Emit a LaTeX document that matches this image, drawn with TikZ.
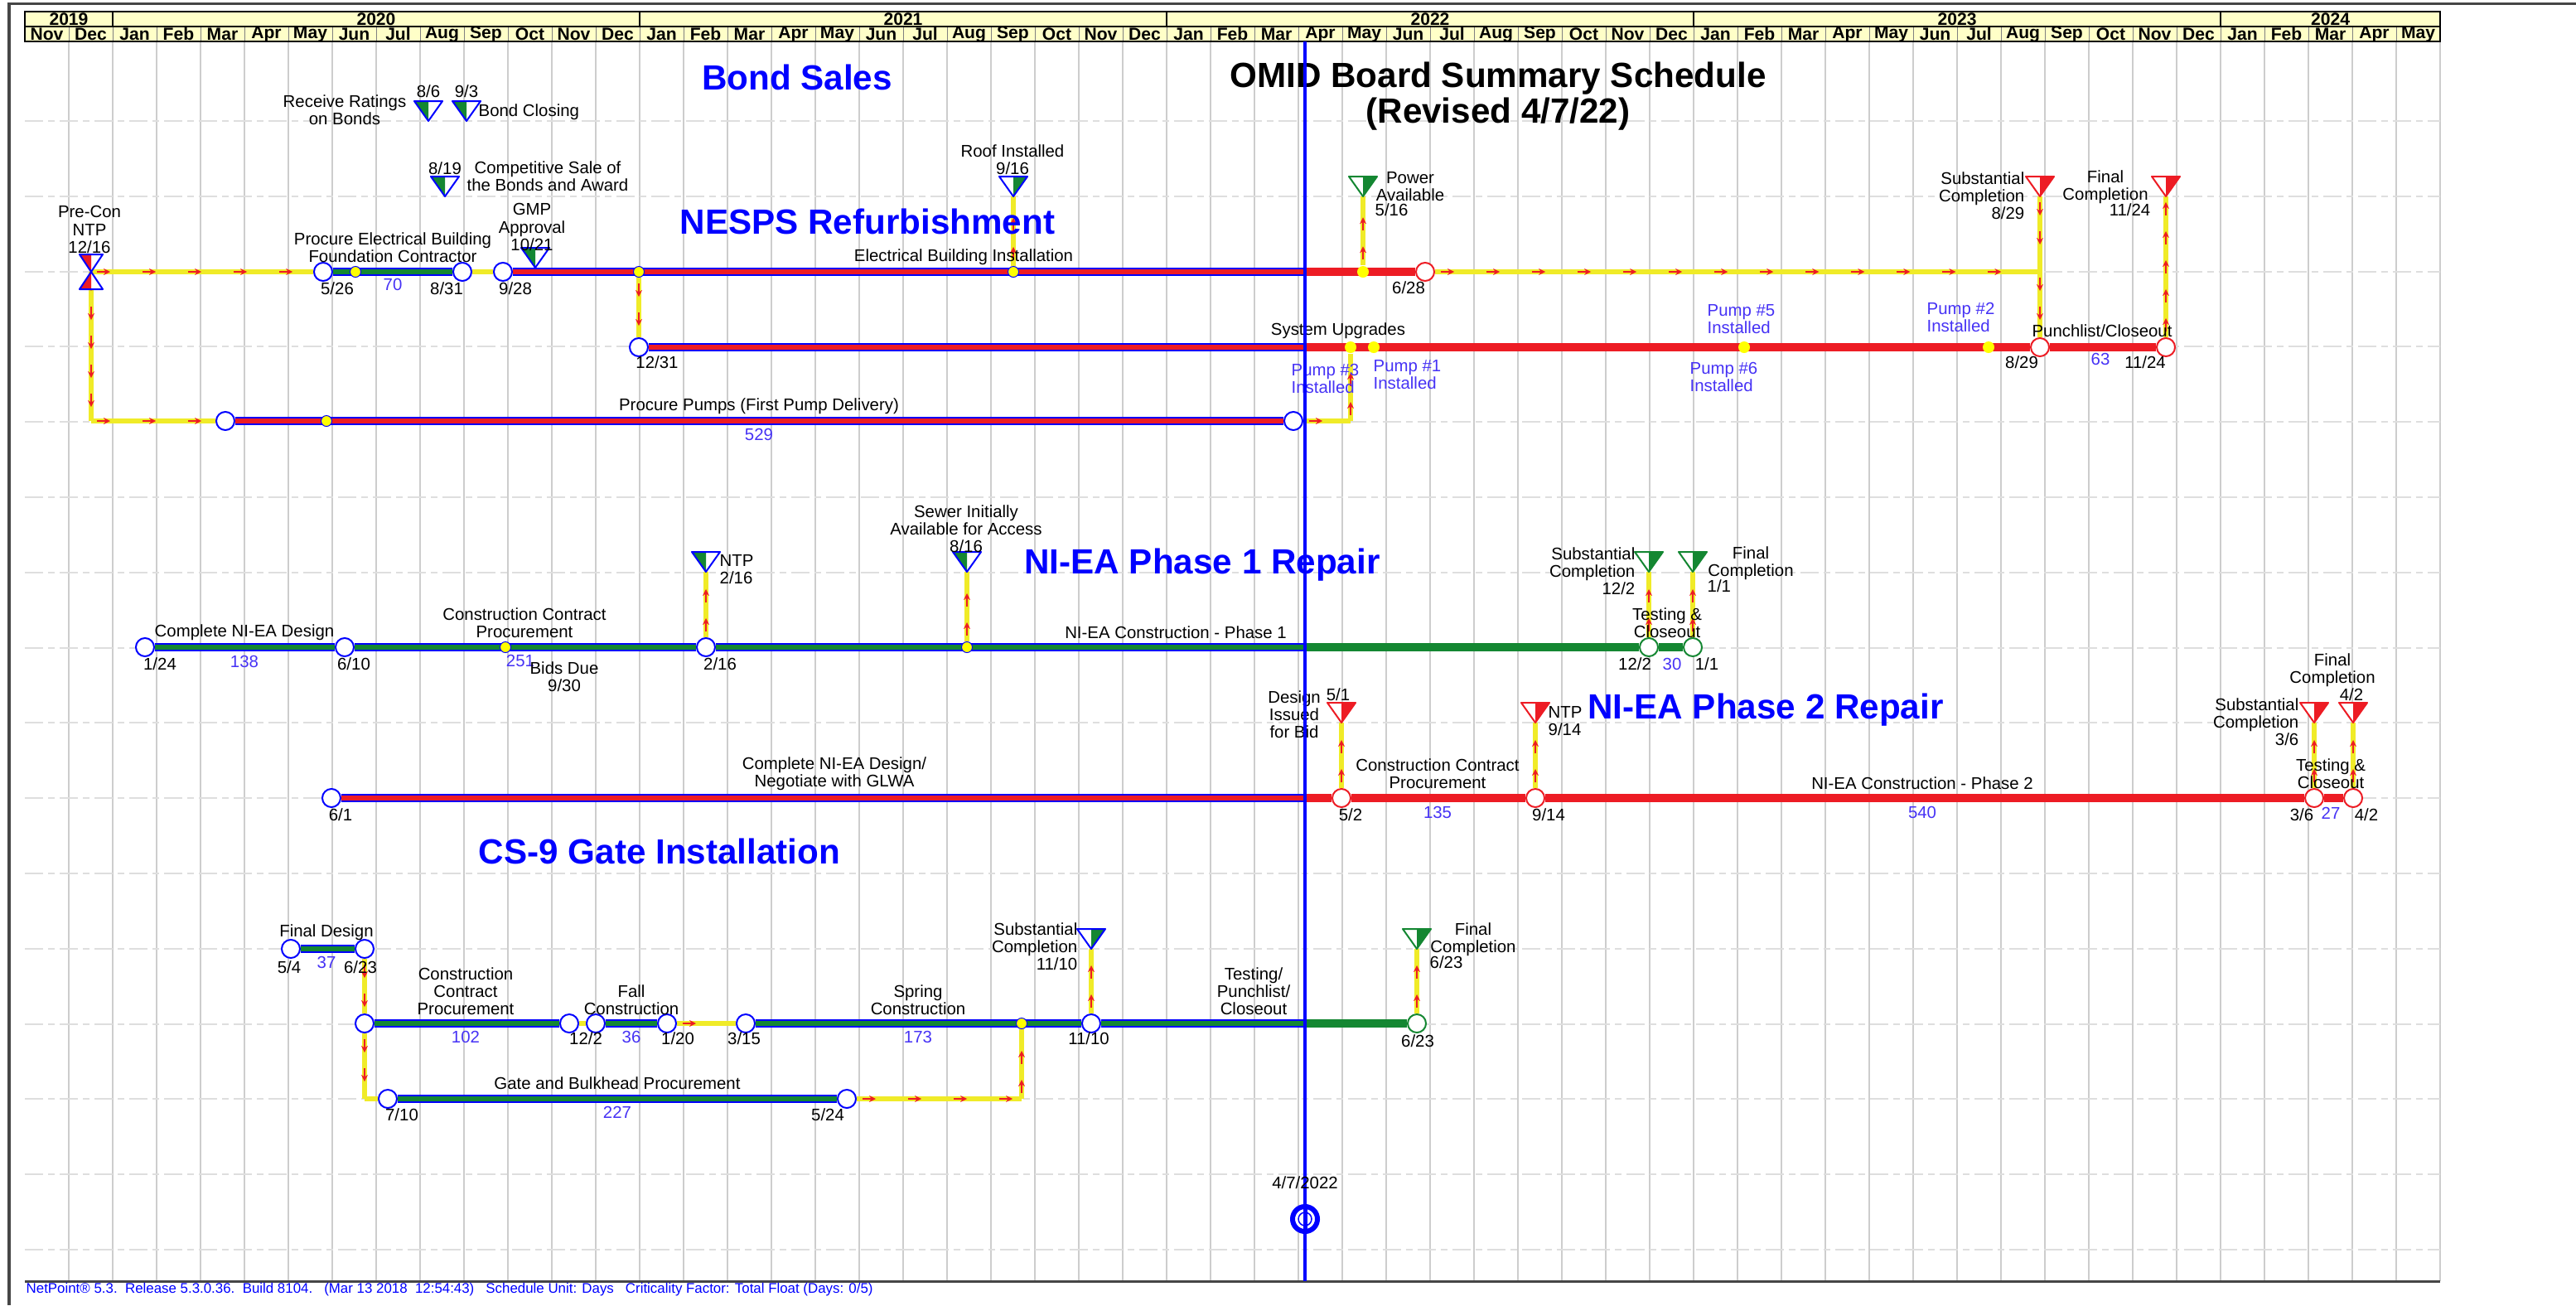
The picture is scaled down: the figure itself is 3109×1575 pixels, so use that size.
\documentclass[tikz,border=0pt]{standalone}
\usepackage{fontspec}
\setmainfont{Liberation Sans}
\usetikzlibrary{arrows.meta,decorations.markings}

\definecolor{npblue}{RGB}{0,0,255}
\definecolor{npred}{RGB}{237,28,36}
\definecolor{npgreen}{RGB}{20,135,50}
\definecolor{npyellow}{RGB}{240,235,40}
\definecolor{dotyellow}{RGB}{255,255,0}
\definecolor{hdrfill}{RGB}{255,255,200}
\definecolor{gridgray}{RGB}{205,205,205}
\definecolor{rowgray}{RGB}{222,222,222}
\definecolor{durblue}{RGB}{70,50,245}
\definecolor{framegray}{RGB}{70,70,70}

\newcommand{\lfont}{\fontsize{5.8}{6}\selectfont}
\newcommand{\tfont}{\fontsize{12}{12}\selectfont\bfseries}
\newcommand{\hfont}{\fontsize{6}{6}\selectfont\bfseries}

\pgfdeclarelayer{back}
\pgfsetlayers{back,main}

\tikzset{
  ev/.style={circle,draw=npblue,fill=white,line width=0.02cm,minimum size=0.22cm,inner sep=0pt},
  evr/.style={ev,draw=npred},
  evg/.style={ev,draw=npgreen},
  dot/.style={circle,fill=dotyellow,draw=npblue,line width=0.01cm,minimum size=0.13cm,inner sep=0pt},
  fdot/.style={circle,fill=dotyellow,minimum size=0.14cm,inner sep=0pt},
  lbl/.style={font=\lfont,inner sep=0pt,align=center},
  dur/.style={lbl,text=durblue},
  pump/.style={lbl,text=durblue,anchor=west,align=left},
  ttl/.style={font=\tfont,inner sep=0pt,text=npblue},
  hdr/.style={font=\hfont,inner sep=0pt},
  rowline/.style={rowgray,line width=0.02cm,dash pattern=on 0.22cm off 0.06cm on 0.08cm off 0.06cm},
  rbar/.style={draw=npblue,double=npred,double distance=0.06cm,line width=0.02cm},
  gbar/.style={draw=npblue,double=npgreen,double distance=0.06cm,line width=0.02cm},
  rfut/.style={draw=npred,line width=0.1cm},
  gfut/.style={draw=npgreen,line width=0.1cm},
  flow/.style={draw=npyellow,line width=0.06cm,postaction={decorate},
    decoration={markings,mark=between positions 0.18cm and -0.1cm step #1 with
      {\draw[npred,line width=0.02cm,-{Stealth[length=0.08cm,width=0.08cm]}] (-11,0) -- (5,0);}}},
  flow/.default=0.55cm,
  pics/mile/.style n args={3}{code={
    \fill[white] (-17,-24) -- (17,-24) -- (0,0) -- cycle;
    \fill[#1] (#2*17,-24) -- (0,-24) -- (0,0) -- cycle;
    \draw[#3,line width=0.02cm,line join=round] (-17,-24) -- (17,-24) -- (0,0) -- cycle;
  }},
  pics/hglass/.style={code={
    \fill[white] (-14,-21) -- (14,-21) -- (0,0) -- cycle (-14,21) -- (14,21) -- (0,0) -- cycle;
    \fill[npred] (-14,-21) -- (0,-21) -- (0,0) -- cycle (-14,21) -- (0,21) -- (0,0) -- cycle;
    \draw[npblue,line width=0.02cm,line join=round] (-14,-21) -- (14,-21) -- (0,0) -- cycle
      (-14,21) -- (14,21) -- (0,0) -- cycle;
  }}
}

\begin{document}
\begin{tikzpicture}[x=0.01cm,y=-0.01cm]
\useasboundingbox (0,0) rectangle (3109,1575);

% frame and time scale
\draw[framegray,line width=0.03cm] (11,1575) -- (11,4) -- (3109,4);
\draw[framegray,line width=0.03cm] (30,1546) -- (2945,1546);
\fill[hdrfill] (30,14) rectangle (2945,50);
\foreach \k in {1,...,54} \draw[gray,line width=0.01cm] ({30+53*\k},32) -- ({30+53*\k},50);
\foreach \k in {2,14,26,38,50} \draw[black,line width=0.02cm] ({30+53*\k},14) -- ({30+53*\k},32);
\draw[black,line width=0.015cm] (30,32) -- (2945,32);
\draw[black,line width=0.02cm] (30,14) rectangle (2945,50);
\foreach \yr/\a/\b in {2019/0/2,2020/2/14,2021/14/26,2022/26/38,2023/38/50,2024/50/55}
  \node (y\yr)[hdr] at ({30+53*(\a+\b)/2},23) {\yr};
\foreach \m [count=\k from 0] in {Nov,Dec,Jan,Feb,Mar,Apr,May,Jun,Jul,Aug,Sep,Oct,Nov,Dec,Jan,Feb,Mar,Apr,May,Jun,Jul,Aug,Sep,Oct,Nov,Dec,Jan,Feb,Mar,Apr,May,Jun,Jul,Aug,Sep,Oct,Nov,Dec,Jan,Feb,Mar,Apr,May,Jun,Jul,Aug,Sep,Oct,Nov,Dec,Jan,Feb,Mar,Apr,May}
  \node (m\k)[hdr] at ({56.5+53*\k},41) {\m};

% NESPS events
\coordinate (ntp) at (110,328);
\node (n1)[ev] at (390,328) {};
\node (d1)[dot] at (429,328) {};
\node (n2)[ev] at (558,328) {};
\node (n3)[ev] at (607,328) {};
\node (d2)[dot] at (771,328) {};
\node (d3)[dot] at (1223,328) {};
\coordinate (t1) at (1575,328);
\node (d4)[fdot] at (1645,328) {};
\node (n5)[evr] at (1720,328) {};
\coordinate (k1) at (2462,328);
\node (n4)[ev] at (771,419) {};
\coordinate (t2) at (1575,419);
\node (pu3)[fdot] at (1630,419) {};
\node (pu1)[fdot] at (1658,419) {};
\node (pu5)[fdot] at (2105,419) {};
\node (pu2)[fdot] at (2400,419) {};
\node (n6)[evr] at (2462,419) {};
\node (n7)[evr] at (2614,419) {};
\coordinate (k2) at (110,508);
\node (p1)[ev] at (272,508) {};
\node (d5)[dot] at (394,508) {};
\node (p2)[ev] at (1561,508) {};
\coordinate (k3) at (1630,508);
\coordinate (mRate) at (517,146);
\coordinate (mClose) at (563,146);
\coordinate (mSale) at (537,237);
\coordinate (mGmp) at (646,323);
\coordinate (mRoof) at (1223,237);
\coordinate (mPower) at (1645,237);
\coordinate (mSub1) at (2462,237);
\coordinate (mFin1) at (2614,237);

% NI-EA phase 1 events
\node (a1)[ev] at (175,781) {};
\node (a2)[ev] at (416,781) {};
\node (d6)[dot] at (610,781) {};
\node (a3)[ev] at (852,781) {};
\node (d7)[dot] at (1167,781) {};
\coordinate (t3) at (1575,781);
\node (a4)[evg] at (1990,781) {};
\node (a5)[evg] at (2043,781) {};
\coordinate (mNtp1) at (852,690);
\coordinate (mSewer) at (1167,690);
\coordinate (mSub2) at (1990,690);
\coordinate (mFin2) at (2043,690);

% NI-EA phase 2 events
\node (b1)[ev] at (400,963) {};
\coordinate (t4) at (1575,963);
\node (b2)[evr] at (1619,963) {};
\node (b3)[evr] at (1853,963) {};
\node (b4)[evr] at (2793,963) {};
\node (b5)[evr] at (2840,963) {};
\coordinate (mDes) at (1619,872);
\coordinate (mNtp2) at (1853,872);
\coordinate (mSub3) at (2793,872);
\coordinate (mFin3) at (2840,872);

% CS-9 events
\node (c1)[ev] at (351,1145) {};
\node (c2)[ev] at (440,1145) {};
\node (c3)[ev] at (440,1235) {};
\node (c4)[ev] at (687,1235) {};
\node (c5)[ev] at (719,1235) {};
\node (c6)[ev] at (805,1235) {};
\node (c7)[ev] at (900,1235) {};
\node (d8)[dot] at (1233,1235) {};
\node (c8)[ev] at (1317,1235) {};
\coordinate (t5) at (1575,1235);
\node (c9)[evg] at (1710,1235) {};
\coordinate (k4) at (440,1326);
\node (c10)[ev] at (468,1326) {};
\node (c11)[ev] at (1022,1326) {};
\coordinate (k5) at (1233,1326);
\coordinate (mSub4) at (1317,1145);
\coordinate (mFin4) at (1710,1145);

\begin{pgfonlayer}{back}
  \foreach \k in {1,...,55} \draw[gridgray,line width=0.015cm] ({30+53*\k},50) -- ({30+53*\k},1546);
  \foreach \i in {0,...,15} \draw[rowline] (30,{146+90.8*\i}) -- (2945,{146+90.8*\i});

  \foreach \from/\to in {n1/n2,a1/a2,a2/a3,a3/t3,c1/c2,c3/c4,c5/c6,c7/c8,c8/t5,c10/c11}
    \draw[gbar] (\from) -- (\to);
  \foreach \from/\to in {n3/t1,n4/t2,p1/p2,b1/t4}
    \draw[rbar] (\from) -- (\to);
  \foreach \from/\to in {t1/n5,t2/n6,n6/n7,t4/b2,b2/b3,b3/b4,b4/b5}
    \draw[rfut] (\from) -- (\to);
  \foreach \from/\to in {t3/a4,a4/a5,t5/c9}
    \draw[gfut] (\from) -- (\to);

  % connectors, corners split into straight runs
  \foreach \from/\to in {ntp/n1,n2/n3,n5/k1,k2/p1,p2/k3,c4/c5,c6/c7,k4/c10,c11/k5}
    \draw[flow] (\from) -- (\to);
  \foreach \from/\to in {ntp/k2,k1/n6,mSub1/k1,k3/pu3,c2/c3,c3/k4,k5/d8,d2/n4,
      n7/mFin1,d3/mRoof,d4/mPower,a3/mNtp1,d7/mSewer,a4/mSub2,a5/mFin2,
      b2/mDes,b3/mNtp2,b4/mSub3,b5/mFin3,c8/mSub4,c9/mFin4}
    \draw[flow=0.35cm] (\from) -- (\to);
\end{pgfonlayer}

% milestones
\pic at (ntp) {hglass};
\pic at (mRate) {mile={npgreen}{-1}{npblue}};
\pic at (mClose) {mile={npgreen}{-1}{npblue}};
\pic at (mSale) {mile={npgreen}{-1}{npblue}};
\pic at (mGmp) {mile={npgreen}{-1}{npblue}};
\pic at (mRoof) {mile={npgreen}{1}{npblue}};
\pic at (mPower) {mile={npgreen}{1}{npgreen}};
\pic at (mSub1) {mile={npred}{1}{npred}};
\pic at (mFin1) {mile={npred}{1}{npred}};
\pic at (mNtp1) {mile={npgreen}{-1}{npblue}};
\pic at (mSewer) {mile={npgreen}{-1}{npblue}};
\pic at (mSub2) {mile={npgreen}{1}{npgreen}};
\pic at (mFin2) {mile={npgreen}{1}{npgreen}};
\pic at (mDes) {mile={npred}{1}{npred}};
\pic at (mNtp2) {mile={npred}{1}{npred}};
\pic at (mSub3) {mile={npred}{1}{npred}};
\pic at (mFin3) {mile={npred}{1}{npred}};
\pic at (mSub4) {mile={npgreen}{1}{npblue}};
\pic at (mFin4) {mile={npgreen}{1}{npgreen}};

% titles
\node (tBond)[ttl] at (962,93) {Bond Sales};
\node (tNesps)[ttl] at (1047,267) {NESPS Refurbishment};
\node (tOmid)[ttl,text=black,align=center] at (1808,116) {OMID Board Summary Schedule\\(Revised 4/7/22)};
\node (tPh1)[ttl] at (1451,682) {NI-EA Phase 1 Repair};
\node (tPh2)[ttl] at (2131,857) {NI-EA Phase 2 Repair};
\node (tCs9)[ttl] at (796,1027) {CS-9 Gate Installation};

% bond sales labels
\node (lRate)[lbl] at (416,133) {Receive Ratings\\on Bonds};
\node (lRateD)[lbl] at (517,110) {8/6};
\node (lCloseD)[lbl] at (563,110) {9/3};
\node (lClose)[lbl,anchor=west] at (577,135) {Bond Closing};
\node (lSaleD)[lbl] at (537,203) {8/19};
\node (lSale)[lbl] at (661,213) {Competitive Sale of\\the Bonds and Award};

% NESPS labels
\node (lNtp)[lbl] at (108,277) {Pre-Con\\NTP\\12/16};
\node (lProcEl)[lbl] at (474,299) {Procure Electrical Building\\Foundation Contractor};
\node (dur1)[dur] at (474,343) {70};
\node (l526)[lbl] at (407,348) {5/26};
\node (l831)[lbl] at (539,348) {8/31};
\node (l928)[lbl] at (622,348) {9/28};
\node (lGmp)[lbl] at (642,274) {GMP\\Approval\\10/21};
\node (lElec)[lbl] at (1163,310) {Electrical Building Installation};
\node (lRoof)[lbl] at (1222,193) {Roof Installed\\9/16};
\node (lPower)[lbl] at (1702,225) {Power\\Available};
\node (lPowerD)[lbl,anchor=west] at (1659,253) {5/16};
\node (l628)[lbl] at (1700,347) {6/28};
\node (lSub1)[lbl,anchor=east,align=right] at (2444,236) {Substantial\\Completion\\8/29};
\node (lFin1)[lbl] at (2541,226) {Final\\Completion};
\node (lFin1D)[lbl,anchor=east] at (2596,253) {11/24};
\node (l1231)[lbl] at (793,437) {12/31};
\node (lSys)[lbl] at (1615,399) {System Upgrades};
\node (lPu3)[pump] at (1558,457) {Pump \#3\\Installed};
\node (lPu1)[pump] at (1657,452) {Pump \#1\\Installed};
\node (lPu5)[pump] at (2060,385) {Pump \#5\\Installed};
\node (lPu6)[pump] at (2039,455) {Pump \#6\\Installed};
\node (lPu2)[pump] at (2325,383) {Pump \#2\\Installed};
\node (lPunch)[lbl] at (2537,399) {Punchlist/Closeout};
\node (dur2)[dur] at (2535,433) {63};
\node (l829)[lbl] at (2440,437) {8/29};
\node (l1124)[lbl] at (2589,437) {11/24};
\node (lPumps)[lbl] at (916,490) {Procure Pumps (First Pump Delivery)};
\node (dur3)[dur] at (916,524) {529};

% NI-EA phase 1 labels
\node (l124)[lbl] at (193,801) {1/24};
\node (lDes1)[lbl] at (295,763) {Complete NI-EA Design};
\node (dur4)[dur] at (295,798) {138};
\node (l610)[lbl] at (427,801) {6/10};
\node (lCcp1)[lbl] at (633,752) {Construction Contract\\Procurement};
\node (dur5)[dur] at (628,797) {251};
\node (lBids)[lbl] at (681,817) {Bids Due\\9/30};
\node (l216)[lbl] at (869,801) {2/16};
\node (lNtp1)[lbl,anchor=west,align=left] at (868,687) {NTP\\2/16};
\node (lSewer)[lbl] at (1166,638) {Sewer Initially\\Available for Access\\8/16};
\node (lCon1)[lbl] at (1419,763) {NI-EA Construction - Phase 1};
\node (lSub2)[lbl,anchor=east,align=right] at (1974,689) {Substantial\\Completion\\12/2};
\node (lTest1)[lbl] at (2012,752) {Testing \&\\Closeout};
\node (l122)[lbl] at (1973,801) {12/2};
\node (dur6)[dur] at (2018,801) {30};
\node (l11)[lbl] at (2060,801) {1/1};
\node (lFin2)[lbl] at (2113,680) {Final\\Completion};
\node (lFin2D)[lbl,anchor=west] at (2060,707) {1/1};

% NI-EA phase 2 labels
\node (l61)[lbl] at (411,983) {6/1};
\node (lDes2)[lbl] at (1007,934) {Complete NI-EA Design/\\Negotiate with GLWA};
\node (lIss)[lbl] at (1562,862) {Design\\Issued\\for Bid};
\node (lIssD)[lbl] at (1615,838) {5/1};
\node (l52)[lbl] at (1630,983) {5/2};
\node (lCcp2)[lbl] at (1735,934) {Construction Contract\\Procurement};
\node (dur7)[dur] at (1735,980) {135};
\node (l914)[lbl] at (1869,983) {9/14};
\node (lNtp2)[lbl,anchor=west,align=left] at (1868,870) {NTP\\9/14};
\node (lCon2)[lbl] at (2320,945) {NI-EA Construction - Phase 2};
\node (dur8)[dur] at (2320,980) {540};
\node (lSub3)[lbl,anchor=east,align=right] at (2775,871) {Substantial\\Completion\\3/6};
\node (lFin3)[lbl] at (2815,809) {Final\\Completion};
\node (lFin3D)[lbl] at (2838,838) {4/2};
\node (lTest2)[lbl] at (2813,934) {Testing \&\\Closeout};
\node (l36)[lbl] at (2778,983) {3/6};
\node (dur9)[dur] at (2813,981) {27};
\node (l42)[lbl] at (2856,983) {4/2};

% CS-9 labels
\node (lFd)[lbl] at (394,1125) {Final Design};
\node (l54)[lbl] at (349,1167) {5/4};
\node (dur10)[dur] at (394,1161) {37};
\node (l623a)[lbl] at (435,1167) {6/23};
\node (lCcp3)[lbl] at (562,1196) {Construction\\Contract\\Procurement};
\node (dur11)[dur] at (562,1251) {102};
\node (l122b)[lbl] at (707,1253) {12/2};
\node (lFall)[lbl] at (762,1207) {Fall\\Construction};
\node (dur12)[dur] at (762,1251) {36};
\node (l120)[lbl] at (818,1253) {1/20};
\node (l315)[lbl] at (898,1253) {3/15};
\node (lSpring)[lbl] at (1108,1207) {Spring\\Construction};
\node (dur13)[dur] at (1108,1251) {173};
\node (l1110)[lbl] at (1314,1253) {11/10};
\node (lSub4)[lbl,anchor=east,align=right] at (1301,1142) {Substantial\\Completion\\11/10};
\node (lTest3)[lbl] at (1513,1196) {Testing/\\Punchlist/\\Closeout};
\node (l623b)[lbl] at (1711,1256) {6/23};
\node (lFin4)[lbl] at (1778,1134) {Final\\Completion};
\node (lFin4D)[lbl,anchor=west] at (1725,1161) {6/23};
\node (lGate)[lbl] at (745,1307) {Gate and Bulkhead Procurement};
\node (dur14)[dur] at (745,1342) {227};
\node (l710)[lbl] at (485,1345) {7/10};
\node (l524)[lbl] at (999,1345) {5/24};

% data date line
\draw[npblue,line width=0.04cm] (1575,50) -- (1575,1546);
\node (tLab)[lbl] at (1575,1427) {4/7/2022};
\node (tMark)[circle,draw=npblue,line width=0.06cm,fill=white,minimum size=0.3cm,inner sep=0pt] at (1575,1471) {};
\draw[npblue,line width=0.015cm] (1575,1471) circle (8);
\draw[npblue,line width=0.05cm] (tMark.north) -- (tMark.south);

\node (foot)[font=\fontsize{4.8}{5}\selectfont,text=npblue,anchor=west,inner sep=0pt] at (31,1556)
  {NetPoint\textregistered{} 5.3.\ \ Release 5.3.0.36.\ \ Build 8104.\ \ \ (Mar 13 2018\ \ 12:54:43)\ \ \ Schedule Unit: Days\ \ \ Criticality Factor: Total Float (Days: 0/5)};
\end{tikzpicture}
\end{document}
